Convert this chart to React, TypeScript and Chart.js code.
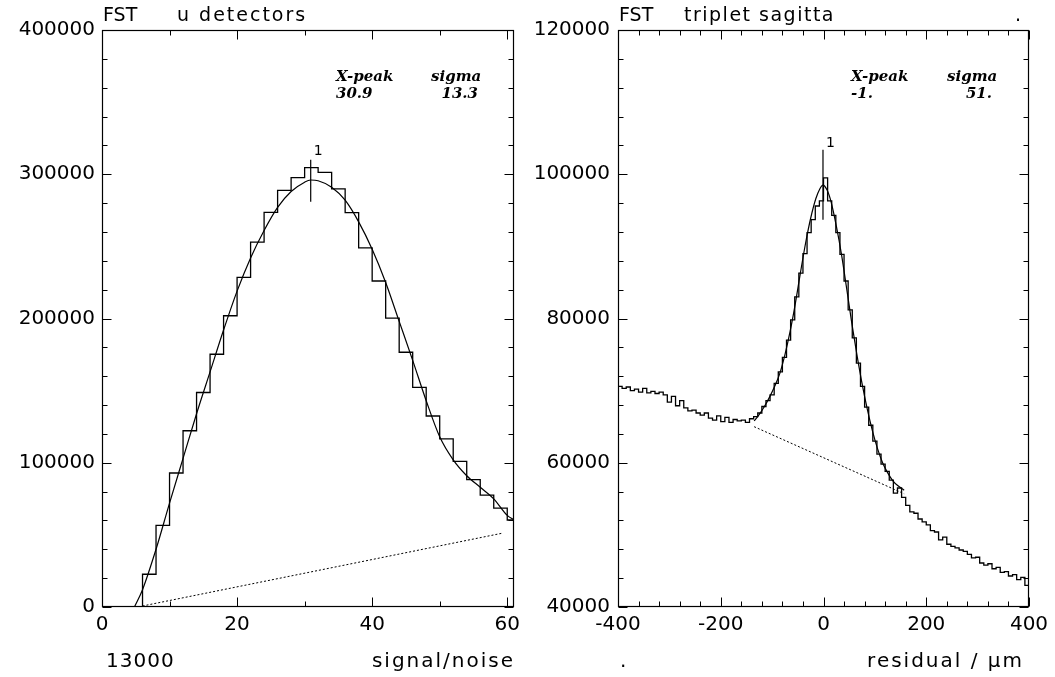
import React, { useEffect, useRef } from "react";
import { Chart, registerables } from "chart.js";

Chart.register(...registerables);

// ---------------- Left panel: FST u detectors, signal/noise ----------------
const snBinStart = 0;
const snBinWidth = 2;
const snCounts = [
  0, 0, 0, 22700, 56600, 92900, 122200, 148700, 175200, 201900, 228500, 253000,
  273600, 288800, 297600, 304600, 301300, 289800, 273400, 248900, 226000, 200300,
  176600, 152300, 132400, 116500, 101000, 88300, 77600, 68600, 60300,
];
const snFitX = [4.8, 6, 8, 10, 12, 14, 16, 18, 20, 22, 24, 26, 28, 30, 30.9, 32, 34, 36, 38, 40, 42, 44, 46, 48, 50, 52, 54, 56, 58, 60, 61];
const snFitY = [0, 12000, 40000, 72000, 103000, 134000, 163000, 192000, 219000, 242000, 261000, 277000, 288000, 294500, 296000, 295500, 291000, 282000, 267000, 248000, 225000, 198000, 171000, 143000, 118000, 102000, 91000, 83000, 75000, 63500, 60500];
const snBgX = [6, 59.2];
const snBgY = [700, 51100];
const snPeakX = 30.9;
const snMarkY = [281000, 310000];
const snStatPeak = "30.9";
const snStatSigma = "13.3";
const snEntries = "13000";

// ---------------- Right panel: FST triplet sagitta, residual ----------------
const resBinStart = -400;
const resBinWidth = 8;
const resCounts = [
  70600, 70300, 70500, 70000, 70200, 69800, 70300, 69700, 69900, 69600, 69800, 69400,
  68400, 69200, 67900, 68600, 67600, 67200, 67300, 66900, 66600, 66900, 66200, 65900,
  66500, 65700, 66300, 65600, 66000, 65800, 65900, 65600, 66100,
  66400, 66900, 67800, 68600, 69400, 71000, 72600, 74600, 77000, 79800, 83000, 86300,
  89000, 91900, 93700, 95600, 96300, 99500, 96300, 94300, 91900, 88900, 85200, 81200,
  77300, 73800, 70600, 67700, 65200, 63000, 61200, 59800, 58800, 57600, 55800, 56500, 55200,
  54100, 53200, 53000, 52200, 51800, 51400, 50600, 50400, 49300, 49700, 48700, 48400,
  48200, 47900, 47700, 47300, 46800, 46900, 46100, 45800, 46000, 45300, 45500, 44800,
  44900, 44300, 44500, 43800, 44100, 43000,
];
const resFitX = [-135, -125, -115, -105, -95, -85, -75, -65, -55, -45, -35, -25, -15, -7, -1, 7, 15, 25, 35, 45, 55, 65, 75, 85, 95, 105, 115, 125, 135, 145, 157];
const resFitY = [65800, 66700, 67800, 69100, 70600, 72400, 75000, 78200, 82000, 86300, 90400, 93900, 96600, 98000, 98500, 97800, 96100, 92800, 88900, 84200, 79400, 75000, 71000, 67500, 64500, 62000, 60000, 58600, 57500, 56800, 56200];
const resBgX = [-135, 157];
const resBgY = [65000, 55700];
const resPeakX = -1;
const resMarkY = [93700, 103400];
const resStatPeak = "-1.";
const resStatSigma = "51.";

// ---------------------------------------------------------------------------
const SANS = '"DejaVu Sans", sans-serif';
const F_TITLE = `19px ${SANS}`;
const F_LABEL = `20px ${SANS}`;
const F_STAT = `italic bold 15px "DejaVu Serif", serif`;

type Txt = { t: string; x: number; y: number; font: string; align?: CanvasTextAlign; ls?: string };

const histPoints = (start: number, width: number, counts: number[], fromZero: boolean) => {
  const pts: { x: number; y: number }[] = [];
  if (fromZero) pts.push({ x: start, y: 0 });
  counts.forEach((c, i) => pts.push({ x: start + i * width, y: c }));
  pts.push({ x: start + counts.length * width, y: counts[counts.length - 1] });
  return pts;
};
const zip = (xs: number[], ys: number[]) => xs.map((x, i) => ({ x, y: ys[i] }));

const pawPlugin = {
  id: "paw",
  afterDatasetsDraw(chart: any, _args: any, o: any) {
    const { ctx, chartArea: a } = chart;
    const xs = chart.scales.x;
    const ys = chart.scales.y;
    ctx.save();
    ctx.strokeStyle = "#000";
    ctx.fillStyle = "#000";
    ctx.lineWidth = 1.2;
    const L = Math.round(a.left) + 0.5;
    const R = Math.round(a.right) - 0.5;
    const T = Math.round(a.top) + 0.5;
    const B = Math.round(a.bottom) - 0.5;
    ctx.strokeRect(L, T, R - L, B - T);
    const seg = (x1: number, y1: number, x2: number, y2: number) => {
      ctx.beginPath();
      ctx.moveTo(x1, y1);
      ctx.lineTo(x2, y2);
      ctx.stroke();
    };
    const run = (min: number, max: number, step: number, major: number, cb: (v: number, m: boolean) => void) => {
      const n0 = Math.ceil(min / step - 1e-9);
      const n1 = Math.floor(max / step + 1e-9);
      for (let n = n0; n <= n1; n++) {
        const v = n * step;
        const m = Math.abs(v / major - Math.round(v / major)) < 1e-9;
        cb(v, m);
      }
    };
    ctx.lineWidth = 1;
    run(xs.min, xs.max, o.xMinor, o.xMajor, (v, m) => {
      const px = Math.round(xs.getPixelForValue(v)) + 0.5;
      const len = m ? o.majLen : o.minLen;
      seg(px, B, px, B - len);
      seg(px, T, px, T + len);
    });
    run(ys.min, ys.max, o.yMinor, o.yMajor, (v, m) => {
      const py = Math.round(ys.getPixelForValue(v)) + 0.5;
      const len = m ? o.majLen : o.minLen;
      seg(L, py, L + len, py);
      seg(R, py, R - len, py);
    });
    // peak label
    const pkx = xs.getPixelForValue(o.peakX);
    const pky = ys.getPixelForValue(o.peakY);
    ctx.font = `14px ${SANS}`;
    ctx.textAlign = "left";
    ctx.textBaseline = "bottom";
    ctx.fillText("1", pkx + 3, pky + o.peakDy);
    // texts
    ctx.textBaseline = "alphabetic";
    for (const t of o.texts as Txt[]) {
      ctx.font = t.font;
      ctx.textAlign = t.align || "left";
      (ctx as any).letterSpacing = t.ls || "0px";
      ctx.fillText(t.t, t.x, t.y);
    }
    ctx.restore();
  },
};

type PanelCfg = {
  hist: { x: number; y: number }[];
  fit: { x: number; y: number }[];
  bg: { x: number; y: number }[];
  mark: { x: number; y: number }[];
  xMin: number; xMax: number; xStep: number;
  yMin: number; yMax: number; yStep: number;
  padLeft: number; padRight: number; yWidth: number; yPad: number;
  paw: any;
};

const makeConfig = (p: PanelCfg): any => ({
  type: "line",
  data: {
    datasets: [
      { data: p.hist, stepped: "before", borderColor: "#000", borderWidth: 1.3, pointRadius: 0, fill: false },
      { data: p.fit, borderColor: "#000", borderWidth: 1.2, pointRadius: 0, fill: false, tension: 0.4, cubicInterpolationMode: "monotone" },
      { data: p.bg, borderColor: "#000", borderWidth: 1, borderDash: [2, 2], pointRadius: 0, fill: false },
      { data: p.mark, borderColor: "#000", borderWidth: 1.2, pointRadius: 0, fill: false },
    ],
  },
  options: {
    responsive: false,
    animation: false,
    devicePixelRatio: 1,
    events: [],
    layout: { padding: { left: p.padLeft, right: p.padRight, top: 30, bottom: 0 } },
    plugins: { legend: { display: false }, tooltip: { enabled: false }, title: { display: false }, paw: p.paw },
    scales: {
      x: {
        type: "linear",
        min: p.xMin,
        max: p.xMax,
        grid: { display: false, drawTicks: false },
        border: { display: false },
        ticks: {
          stepSize: p.xStep,
          includeBounds: false,
          autoSkip: false,
          maxRotation: 0,
          padding: 6,
          color: "#000",
          font: { family: "DejaVu Sans", size: 20 },
          callback: (v: number) => String(v),
        },
        afterFit: (s: any) => { s.height = 70; },
      },
      y: {
        type: "linear",
        min: p.yMin,
        max: p.yMax,
        grid: { display: false, drawTicks: false },
        border: { display: false },
        ticks: {
          stepSize: p.yStep,
          includeBounds: false,
          autoSkip: false,
          padding: p.yPad,
          color: "#000",
          font: { family: "DejaVu Sans", size: 20 },
          callback: (v: number) => String(v),
        },
        afterFit: (s: any) => { s.width = p.yWidth; },
      },
    },
  },
  plugins: [pawPlugin],
});

const leftCfg = (): any =>
  makeConfig({
    hist: histPoints(snBinStart, snBinWidth, snCounts, true),
    fit: zip(snFitX, snFitY),
    bg: zip(snBgX, snBgY),
    mark: [{ x: snPeakX, y: snMarkY[0] }, { x: snPeakX, y: snMarkY[1] }],
    xMin: 0, xMax: 61, xStep: 20,
    yMin: 0, yMax: 400000, yStep: 100000,
    padLeft: 0, padRight: 541, yWidth: 102, yPad: 7,
    paw: {
      xMinor: 10, xMajor: 20, yMinor: 20000, yMajor: 100000, majLen: 9, minLen: 5,
      peakX: snPeakX, peakY: snMarkY[1], peakDy: -1,
      texts: [
        { t: "FST", x: 103, y: 21, font: F_TITLE },
        { t: "u detectors", x: 177, y: 21, font: F_TITLE, ls: "2px" },
        { t: "X-peak", x: 336, y: 81, font: F_STAT },
        { t: "sigma", x: 431, y: 81, font: F_STAT },
        { t: snStatPeak, x: 336, y: 98, font: F_STAT },
        { t: snStatSigma, x: 478, y: 98, font: F_STAT, align: "right" },
        { t: snEntries, x: 106, y: 667, font: F_LABEL, ls: "1px" },
        { t: "signal/noise", x: 515, y: 667, font: F_LABEL, align: "right", ls: "2px" },
      ],
    },
  });

const rightCfg = (): any =>
  makeConfig({
    hist: histPoints(resBinStart, resBinWidth, resCounts, false),
    fit: zip(resFitX, resFitY),
    bg: zip(resBgX, resBgY),
    mark: [{ x: resPeakX, y: resMarkY[0] }, { x: resPeakX, y: resMarkY[1] }],
    xMin: -400, xMax: 400, xStep: 200,
    yMin: 40000, yMax: 120000, yStep: 20000,
    padLeft: 518, padRight: 26, yWidth: 100, yPad: 8,
    paw: {
      xMinor: 40, xMajor: 200, yMinor: 4000, yMajor: 20000, majLen: 9, minLen: 5,
      peakX: resPeakX, peakY: resMarkY[1], peakDy: 1,
      texts: [
        { t: "FST", x: 619, y: 21, font: F_TITLE },
        { t: "triplet sagitta", x: 684, y: 21, font: F_TITLE, ls: "1.5px" },
        { t: ".", x: 1015, y: 21, font: F_TITLE },
        { t: "X-peak", x: 851, y: 81, font: F_STAT },
        { t: "sigma", x: 947, y: 81, font: F_STAT },
        { t: resStatPeak, x: 851, y: 98, font: F_STAT },
        { t: resStatSigma, x: 992, y: 98, font: F_STAT, align: "right" },
        { t: ".", x: 620, y: 667, font: F_LABEL },
        { t: "residual / µm", x: 1024, y: 667, font: F_LABEL, align: "right", ls: "2px" },
      ],
    },
  });

export default function App() {
  const leftRef = useRef<HTMLCanvasElement>(null);
  const rightRef = useRef<HTMLCanvasElement>(null);
  useEffect(() => {
    const c1 = new Chart(leftRef.current as HTMLCanvasElement, leftCfg());
    const c2 = new Chart(rightRef.current as HTMLCanvasElement, rightCfg());
    return () => {
      c1.destroy();
      c2.destroy();
    };
  }, []);
  return (
    <div style={{ position: "fixed", left: 0, top: 0, width: 1055, height: 677, background: "#fff" }}>
      <canvas ref={leftRef} width={1055} height={677} style={{ position: "absolute", left: 0, top: 0, width: 1055, height: 677 }} />
      <canvas ref={rightRef} width={1055} height={677} style={{ position: "absolute", left: 0, top: 0, width: 1055, height: 677 }} />
    </div>
  );
}
